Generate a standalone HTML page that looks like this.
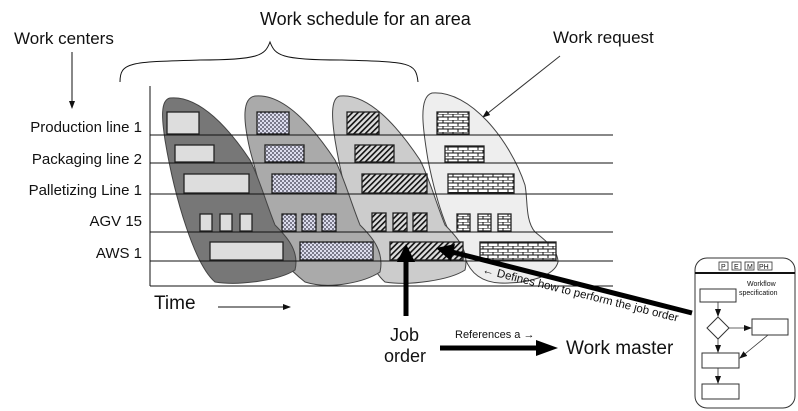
<!DOCTYPE html>
<html><head><meta charset="utf-8"><style>body{margin:0;background:#fff}svg{display:block}text{font-family:"Liberation Sans",sans-serif;fill:#111}</style></head><body>
<svg width="798" height="411" viewBox="0 0 798 411" xmlns="http://www.w3.org/2000/svg">
<defs>
<pattern id="dots" width="4" height="4" patternUnits="userSpaceOnUse"><rect width="4" height="4" fill="#dde"/><circle cx="1" cy="1" r="0.9" fill="#334"/><circle cx="3" cy="3" r="0.9" fill="#334"/></pattern>
<pattern id="hatch" width="4" height="4" patternUnits="userSpaceOnUse" patternTransform="rotate(45)"><rect width="4" height="4" fill="#ddd"/><rect width="1.6" height="4" fill="#111"/></pattern>
<pattern id="brick" width="10" height="6" patternUnits="userSpaceOnUse"><rect width="10" height="6" fill="#fff"/><path d="M0 0H10M0 3H10M3 0V3M8 3V6" stroke="#111" stroke-width="1"/></pattern>
<marker id="ah" markerWidth="8" markerHeight="8" refX="7" refY="4" orient="auto" markerUnits="userSpaceOnUse"><path d="M0 1L8 4L0 7Z" fill="#111"/></marker>
</defs>
<text x="14" y="44" font-size="17">Work centers</text>
<line x1="72" y1="52" x2="72" y2="108" stroke="#111" marker-end="url(#ah)"/>
<text x="260" y="25" font-size="18">Work schedule  for an area</text>
<path d="M120 82 C120 62 130 62 200 60 C260 60 265 55 270 42 C275 55 280 60 340 60 C410 62 416 62 418 82" fill="none" stroke="#111"/>
<text x="553" y="43" font-size="17">Work request</text>
<line x1="560" y1="56" x2="483" y2="117" stroke="#333" marker-end="url(#ah)"/>
<g font-size="15" text-anchor="end">
<text x="142" y="132">Production line 1</text>
<text x="142" y="164">Packaging line 2</text>
<text x="142" y="195">Palletizing Line 1</text>
<text x="142" y="226">AGV 15</text>
<text x="142" y="258">AWS 1</text>
</g>
<g stroke="#444" stroke-width="1">
<path d="M432 93 C418 97 423 130 428 160 C438 210 450 240 465 258 C470 272 480 282 500 283 C530 284 555 275 558 262 C558 250 545 240 535 232 C525 220 528 200 525 185 C510 140 470 90 432 93 Z" fill="#eee"/>
<path d="M340 96 C330 98 332 120 335 140 C345 200 365 265 385 282 C410 286 450 280 465 270 C470 250 455 235 445 225 C435 200 430 180 420 160 C400 130 370 93 340 96 Z" fill="#ccc"/>
<path d="M255 96 C242 98 243 120 250 150 C258 180 265 200 265 232 C275 255 290 270 305 282 C330 290 365 282 380 272 C385 250 370 235 360 225 C350 200 345 180 335 160 C315 130 285 93 255 96 Z" fill="#aaa"/>
<path d="M170 98 C160 100 162 120 165 140 C175 200 195 265 215 282 C240 286 280 280 295 270 C300 250 285 235 275 225 C265 200 260 180 250 160 C230 130 200 95 170 98 Z" fill="#777"/>
</g>
<g stroke="#111" stroke-width="1">
<line x1="150" y1="135" x2="613" y2="135"/><line x1="150" y1="163" x2="613" y2="163"/><line x1="150" y1="194" x2="613" y2="194"/><line x1="150" y1="232" x2="613" y2="232"/><line x1="150" y1="261" x2="613" y2="261"/><line x1="150" y1="286" x2="613" y2="286"/>
<line x1="150" y1="86" x2="150" y2="286"/>
</g>
<g stroke="#222" stroke-width="1.3">
<g fill="#ddd"><rect x="167" y="112" width="32" height="22"/><rect x="175" y="145" width="39" height="17"/><rect x="184" y="174" width="65" height="19"/><rect x="200" y="214" width="12" height="17"/><rect x="220" y="214" width="12" height="17"/><rect x="240" y="214" width="12" height="17"/><rect x="210" y="242" width="73" height="18"/></g>
<g fill="url(#dots)"><rect x="257" y="112" width="32" height="22"/><rect x="265" y="145" width="39" height="17"/><rect x="272" y="174" width="64" height="19"/><rect x="282" y="214" width="14" height="17"/><rect x="302" y="214" width="14" height="17"/><rect x="322" y="214" width="14" height="17"/><rect x="300" y="242" width="73" height="18"/></g>
<g fill="url(#hatch)"><rect x="347" y="112" width="32" height="22"/><rect x="355" y="145" width="39" height="17"/><rect x="362" y="174" width="65" height="19"/><rect x="372" y="213" width="14" height="18"/><rect x="393" y="213" width="14" height="18"/><rect x="413" y="213" width="14" height="18"/><rect x="390" y="242" width="73" height="18"/></g>
<g fill="url(#brick)"><rect x="437" y="112" width="32" height="22"/><rect x="445" y="146" width="39" height="16"/><rect x="448" y="174" width="66" height="19"/><rect x="457" y="214" width="13" height="17"/><rect x="478" y="214" width="13" height="17"/><rect x="498" y="214" width="13" height="17"/><rect x="480" y="242" width="76" height="18"/></g>
</g>
<text x="154" y="309" font-size="19">Time</text>
<line x1="218" y1="307" x2="290" y2="307" stroke="#111" marker-end="url(#ah)"/>
<line x1="406" y1="316" x2="406" y2="258" stroke="#000" stroke-width="5"/>
<path d="M406 244 L397 262 L415 262 Z" fill="#000"/>
<line x1="692" y1="313" x2="452" y2="252" stroke="#000" stroke-width="5"/>
<path d="M436 248 L455 244 L451 261 Z" fill="#000"/>
<text font-size="11.5" transform="translate(482,273) rotate(14)">← Defines  how to perform  the job order</text>
<text x="390" y="341" font-size="18">Job</text>
<text x="384" y="362" font-size="18">order</text>
<text x="455" y="338" font-size="11">References  a →</text>
<line x1="440" y1="348" x2="540" y2="348" stroke="#000" stroke-width="5"/>
<path d="M558 348 L536 340 L536 356 Z" fill="#000"/>
<text x="566" y="354" font-size="19">Work master</text>
<rect x="695" y="258" width="100" height="150" rx="12" fill="#fff" stroke="#333"/>
<line x1="695" y1="273" x2="795" y2="273" stroke="#111" stroke-width="2"/>
<g font-size="7" stroke="#333" fill="#fff" stroke-width="0.8"><rect x="719" y="262" width="9" height="8"/><rect x="732" y="262" width="9" height="8"/><rect x="745" y="262" width="9" height="8"/><rect x="758" y="262" width="14" height="8"/></g>
<g font-size="7"><text x="721" y="269">P</text><text x="734" y="269">E</text><text x="747" y="269">M</text><text x="759" y="269">PH</text></g>
<text x="747" y="286" font-size="7">Workflow</text><text x="739" y="295" font-size="7">specification</text>
<g stroke="#333" fill="#fff"><rect x="700" y="289" width="36" height="13"/><path d="M718 317 L729 328 L718 339 L707 328 Z"/><rect x="752" y="319" width="36" height="16"/><rect x="702" y="353" width="37" height="15"/><rect x="702" y="384" width="37" height="15"/></g>
<g stroke="#333" fill="none" stroke-width="0.8"><line x1="718" y1="302" x2="718" y2="316" marker-end="url(#ah)"/><line x1="729" y1="328" x2="751" y2="328" marker-end="url(#ah)"/><line x1="718" y1="339" x2="718" y2="352" marker-end="url(#ah)"/><line x1="768" y1="335" x2="740" y2="358" marker-end="url(#ah)"/><line x1="718" y1="368" x2="718" y2="383" marker-end="url(#ah)"/></g>
</svg>
</body></html>
